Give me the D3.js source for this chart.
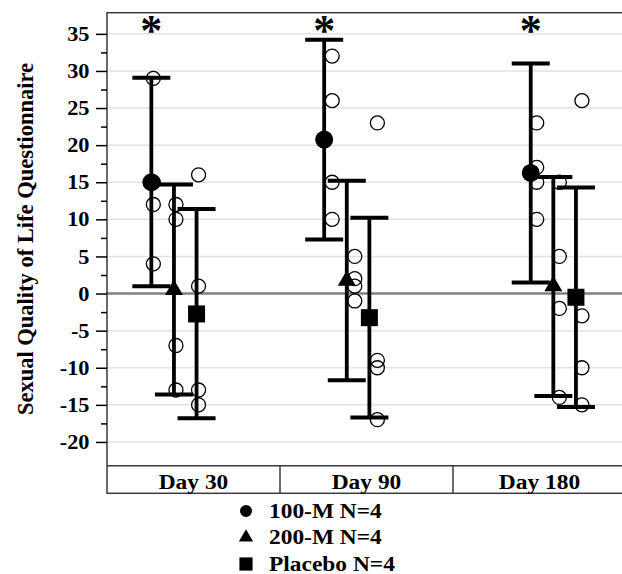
<!DOCTYPE html>
<html>
<head>
<meta charset="utf-8">
<script src="https://cdn.jsdelivr.net/npm/d3@7"></script>
<style>
  html, body { margin: 0; padding: 0; background: #fff; }
</style>
</head>
<body>
<div id="main"></div>
<script>
// categories and series
var days = ["Day 30", "Day 90", "Day 180"];
var groups = ["100-M N=4", "200-M N=4", "Placebo N=4"];

// group means per day
var mean100 = [15, 20.75, 16.25];
var mean200 = [0.5, 1.75, 1];
var meanPlacebo = [-2.75, -3.25, -0.5];

// error bar ends per day
var upper100 = [29.1, 34.2, 31.0];
var lower100 = [1.0, 7.3, 1.5];
var upper200 = [14.7, 15.2, 15.7];
var lower200 = [-13.6, -11.7, -13.8];
var upperPlacebo = [11.4, 10.2, 14.3];
var lowerPlacebo = [-16.8, -16.7, -15.3];

// individual subjects per day
var subj100 = [[29, 15, 12, 4], [32, 26, 15, 10], [23, 17, 15, 10]];
var subj200 = [[12, 10, -7, -13], [5, 2, 1, -1], [15, 5, -2, -14]];
var subjPlacebo = [[16, 1, -13, -15], [23, -9, -10, -17], [26, -3, -10, -15]];

// significance marks over 100-M
var stars100 = ["*", "*", "*"];

var yTicks = d3.range(-20, 36, 5);
var yMinorTicks = d3.range(-17.5, 36, 5);

var width = 622, height = 574;
var margin = {left: 107, right: 626, top: 12.7, bottom: 465.7, strip: 493.3};
var serif = '"Liberation Serif", "Times New Roman", serif';
var widen = 1.09; // the source figure's lettering is a bit wider than plain Times

// layout of the dodged groups inside each day
var clusterCenter = [0.387, 0.386, 0.58],
    groupStep = 22.6,
    jitter = [2, 8, 6],
    capHalf = 19;

var svg = d3.select("#main").append("svg")
    .attr("width", width)
    .attr("height", height);

var series = [
  {name: groups[0], mean: mean100, hi: upper100, lo: lower100, subj: subj100, symbol: d3.symbolCircle, size: 254, legSize: 113},
  {name: groups[1], mean: mean200, hi: upper200, lo: lower200, subj: subj200, symbol: d3.symbolTriangle, size: 140, legSize: 88},
  {name: groups[2], mean: meanPlacebo, hi: upperPlacebo, lo: lowerPlacebo, subj: subjPlacebo, symbol: d3.symbolSquare, size: 289, legSize: 174}
];

var x = d3.scaleBand().domain(days).range([margin.left, margin.right]).padding(0);
var y = d3.scaleLinear().domain([-23.2, 37.85]).range([margin.bottom, margin.top]);

function gx(dayIdx, gi) {
  return x(days[dayIdx]) + clusterCenter[dayIdx] * x.bandwidth() + (gi - 1) * groupStep;
}

function boldText(sel, size) {
  return sel.style("font-family", serif).style("font-weight", "bold")
    .style("font-size", size + "px").attr("fill", "#000");
}

var plotW = margin.right - margin.left;

// grid
svg.append("g").attr("class", "grid")
  .selectAll("line").data(yTicks.filter(d => d !== 0))
  .enter().append("line")
  .attr("x1", margin.left).attr("x2", margin.right)
  .attr("y1", d => y(d)).attr("y2", d => y(d))
  .attr("stroke", "#e2e2e2").attr("stroke-width", 1.5);

// zero line
svg.append("line")
  .attr("x1", margin.left).attr("x2", margin.right)
  .attr("y1", y(0)).attr("y2", y(0))
  .attr("stroke", "#808080").attr("stroke-width", 2.5);

// frame and category strip
svg.append("rect")
  .attr("x", margin.left).attr("y", margin.top)
  .attr("width", plotW).attr("height", margin.strip - margin.top)
  .attr("fill", "none").attr("stroke", "#3a3a3a").attr("stroke-width", 1.5);
svg.append("line")
  .attr("x1", margin.left).attr("x2", margin.right)
  .attr("y1", margin.bottom).attr("y2", margin.bottom)
  .attr("stroke", "#3a3a3a").attr("stroke-width", 1.5);
svg.append("g").selectAll("line").data(days.slice(1))
  .enter().append("line")
  .attr("x1", d => x(d)).attr("x2", d => x(d))
  .attr("y1", margin.bottom).attr("y2", margin.strip)
  .attr("stroke", "#3a3a3a").attr("stroke-width", 1.5);
svg.append("g").selectAll("text").data(days)
  .enter().append("text")
  .attr("transform", d => "translate(" + (x(d) + x.bandwidth() / 2) + ",488.5) scale(" + widen + ",1)")
  .attr("text-anchor", "middle")
  .call(boldText, 21.5)
  .text(d => d);

// y axis
var yAxis = svg.append("g")
  .attr("transform", "translate(" + margin.left + ",0)")
  .call(d3.axisLeft(y).tickValues(yTicks).tickSize(11).tickPadding(6).tickFormat(d => String(d)));
yAxis.select(".domain").remove();
yAxis.selectAll("line").attr("stroke", "#000").attr("stroke-width", 1.5);
yAxis.selectAll("text").call(boldText, 20.5)
  .attr("x", null)
  .attr("transform", "translate(-17.5,0) scale(" + widen + ",1)");

var yMinor = svg.append("g")
  .attr("transform", "translate(" + margin.left + ",0)")
  .call(d3.axisLeft(y).tickValues(yMinorTicks).tickSize(6).tickFormat(""));
yMinor.select(".domain").remove();
yMinor.selectAll("line").attr("stroke", "#000").attr("stroke-width", 1.5);

svg.append("text")
  .attr("transform", "translate(33,239) rotate(-90)")
  .attr("text-anchor", "middle")
  .call(boldText, 22.5)
  .text("Sexual Quality of Life Questionnaire");

// error bars
series.forEach(function(s, gi) {
  var g = svg.append("g").attr("class", "bars");
  var idx = d3.range(days.length);
  g.selectAll(".stem").data(idx).enter().append("line")
    .attr("x1", i => gx(i, gi)).attr("x2", i => gx(i, gi))
    .attr("y1", i => y(s.hi[i])).attr("y2", i => y(s.lo[i]))
    .attr("stroke", "#000").attr("stroke-width", 3.8);
  g.selectAll(".capHi").data(idx).enter().append("line")
    .attr("x1", i => gx(i, gi) - capHalf).attr("x2", i => gx(i, gi) + capHalf)
    .attr("y1", i => y(s.hi[i])).attr("y2", i => y(s.hi[i]))
    .attr("stroke", "#000").attr("stroke-width", 4);
  g.selectAll(".capLo").data(idx).enter().append("line")
    .attr("x1", i => gx(i, gi) - capHalf).attr("x2", i => gx(i, gi) + capHalf)
    .attr("y1", i => y(s.lo[i])).attr("y2", i => y(s.lo[i]))
    .attr("stroke", "#000").attr("stroke-width", 4);
});

// individual subjects
series.forEach(function(s, gi) {
  var pts = [];
  s.subj.forEach(function(vals, i) { vals.forEach(v => pts.push({day: i, v: v})); });
  svg.append("g").selectAll("circle").data(pts).enter().append("circle")
    .attr("cx", d => gx(d.day, gi) + jitter[d.day])
    .attr("cy", d => y(d.v))
    .attr("r", 7)
    .attr("fill", "none").attr("stroke", "#000").attr("stroke-width", 1.3);
});

// means
series.forEach(function(s, gi) {
  svg.append("g").selectAll("path").data(s.mean).enter().append("path")
    .attr("transform", (d, i) => "translate(" + gx(i, gi) + "," + y(d) + ")")
    .attr("d", d3.symbol().type(s.symbol).size(s.size))
    .attr("fill", "#000");
});

// significance stars
svg.append("g").selectAll("text").data(stars100).enter().append("text")
  .attr("x", (d, i) => gx(i, 0))
  .attr("y", 45)
  .attr("text-anchor", "middle")
  .call(boldText, 44)
  .text(d => d);

// legend
var legend = svg.append("g").attr("class", "legend");
var rowY = d3.scalePoint().domain(groups).range([511, 564]);
legend.selectAll("path").data(series).enter().append("path")
  .attr("transform", d => "translate(246," + rowY(d.name) + ")")
  .attr("d", d => d3.symbol().type(d.symbol).size(d.legSize)())
  .attr("fill", "#000");
legend.selectAll("text").data(groups).enter().append("text")
  .attr("transform", d => "translate(269," + (rowY(d) + 6.5) + ") scale(" + widen + ",1)")
  .call(boldText, 21.5)
  .text(d => d);
</script>
</body>
</html>
